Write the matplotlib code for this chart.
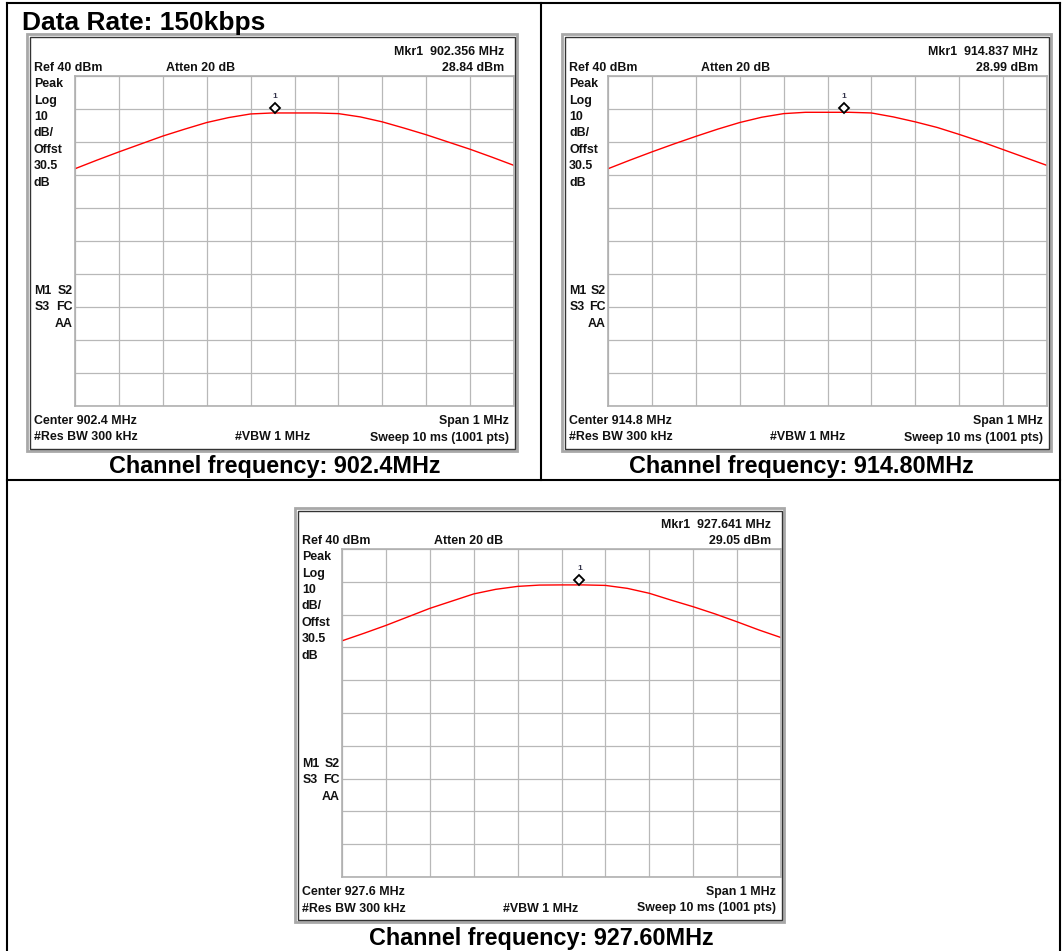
import numpy as np
import matplotlib
matplotlib.use('Agg')
import matplotlib.pyplot as plt
from matplotlib.patches import Rectangle
from matplotlib import transforms

plt.rcParams['font.family'] = ['Liberation Sans', 'DejaVu Sans']

W, H = 1062, 951

#--- Data (dBm every 0.05 MHz across the 1 MHz span)
offset_mhz = [-0.50, -0.45, -0.40, -0.35, -0.30, -0.25, -0.20, -0.15, -0.10, -0.05, 0.00,
              0.05, 0.10, 0.15, 0.20, 0.25, 0.30, 0.35, 0.40, 0.45, 0.50]
center_mhz = [902.4, 914.8, 927.6]
trace_902 = [11.9, 14.5, 17.0, 19.4, 21.8, 23.9, 25.9, 27.4, 28.5, 28.8, 28.8,
             28.8, 28.6, 27.6, 26.1, 24.2, 22.2, 20.0, 17.8, 15.4, 12.9]
trace_914 = [11.9, 14.5, 17.0, 19.4, 21.7, 23.9, 25.9, 27.5, 28.6, 29.0, 29.0,
             29.0, 28.8, 27.6, 26.1, 24.4, 22.3, 20.1, 17.7, 15.3, 12.9]
trace_927 = [12.0, 14.3, 16.7, 19.3, 21.9, 24.1, 26.3, 27.7, 28.6, 29.0, 29.05,
             29.05, 28.9, 28.0, 26.5, 24.4, 22.4, 20.2, 17.8, 15.3, 13.0]
mkr_freq = [902.356, 914.837, 927.641]
mkr_dbm = [28.84, 28.99, 29.05]
center_labels = ['Center 902.4 MHz', 'Center 914.8 MHz', 'Center 927.6 MHz']
captions = ['Channel frequency: 902.4MHz', 'Channel frequency: 914.80MHz',
            'Channel frequency: 927.60MHz']
side_labels = ['Peak', 'Log', '10', 'dB/', 'Offst', '30.5', 'dB']

fig = plt.figure(figsize=(W / 100, H / 100), dpi=100)
bg = fig.add_axes([0, 0, 1, 1])
bg.set_xlim(0, W)
bg.set_ylim(H, 0)
bg.axis('off')

TXT = dict(fontsize=8.9, fontweight='bold', color='#111111', va='baseline')


def txt(x, y, s, ha='left'):
    bg.text(x, y, s, ha=ha, **TXT)


def draw_panel(frame, grid, i, trace, cap_xy):
    fx0, fy0, fx1, fy1 = frame
    gx0, gy0, gx1, gy1 = grid
    # screenshot window border (bevel)
    bg.add_patch(Rectangle((fx0, fy0), fx1 - fx0, fy1 - fy0, fill=False,
                           ec='#a8a8a8', lw=2.0))
    bg.add_patch(Rectangle((fx0 + 2.5, fy0 + 2.5), fx1 - fx0 - 5, fy1 - fy0 - 5,
                           fill=False, ec='#333333', lw=1.0))
    # graticule
    ax = fig.add_axes([gx0 / W, 1 - gy1 / H, (gx1 - gx0) / W, (gy1 - gy0) / H])
    ax.set_xlim(-0.5, 0.5)
    ax.set_ylim(-60, 40)
    ax.set_xticks(np.linspace(-0.5, 0.5, 11))
    ax.set_yticks(np.arange(-60, 41, 10))
    ax.tick_params(length=0, labelbottom=False, labelleft=False)
    ax.grid(True, color='#b8b8b8', lw=0.9)
    for s in ax.spines.values():
        s.set_color('#b0b0b0')
        s.set_linewidth(1.2)
    ax.plot(offset_mhz, trace, color='#ff0000', lw=1.0, solid_joinstyle='round')
    # marker 1 (diamond sits just above the trace point)
    mx = mkr_freq[i] - center_mhz[i]
    tr = transforms.offset_copy(ax.transData, fig=fig, x=0, y=4.5, units='dots')
    ax.plot([mx], [mkr_dbm[i]], marker='D', ms=5.2, mfc='white', mec='black',
            mew=1.3, transform=tr, clip_on=False)
    ax.annotate('1', (mx, mkr_dbm[i]), xytext=(0, 16), textcoords='offset pixels',
                ha='center', va='center', fontsize=6, fontweight='bold',
                color='#33334a')
    # texts round the graticule
    lx = fx0 + 7
    rx = fx1 - 13
    txt(rx, gy0 - 21, 'Mkr1  %.3f MHz' % mkr_freq[i], ha='right')
    txt(lx, gy0 - 5, 'Ref 40 dBm')
    txt(fx0 + 139, gy0 - 5, 'Atten 20 dB')
    txt(rx, gy0 - 5, '%.2f dBm' % mkr_dbm[i], ha='right')
    for k, s in enumerate(side_labels):
        txt(lx, gy0 + 11.2 + 16.4 * k, s)
    txt(lx, gy0 + 217.8, 'M1')
    txt(gx0 - 2.5, gy0 + 217.8, 'S2', ha='right')
    txt(lx + 1, gy0 + 234.2, 'S3')
    txt(gx0 - 2.5, gy0 + 234.2, 'FC', ha='right')
    txt(gx0 - 2.5, gy0 + 250.6, 'AA', ha='right')
    txt(lx, gy1 + 18, center_labels[i])
    txt(fx1 - 8, gy1 + 18, 'Span 1 MHz', ha='right')
    txt(lx, gy1 + 34.5, '#Res BW 300 kHz')
    txt(fx0 + 208, gy1 + 34.5, '#VBW 1 MHz')
    txt(fx1 - 8, gy1 + 34.5, 'Sweep 10 ms (1001 pts)', ha='right')
    bg.text(cap_xy[0], cap_xy[1], captions[i], ha='center', va='baseline',
            fontsize=16.8, fontweight='bold', color='black')


draw_panel((27, 34, 517, 451), (75, 76, 514, 406), 0, trace_902, (275, 473.5))
draw_panel((562, 34, 1051, 451), (608, 76, 1047, 406), 1, trace_914, (801, 473.5))
draw_panel((295, 508, 784, 922), (342, 549, 781, 877), 2, trace_927, (541, 945.5))

bg.text(22, 30, 'Data Rate: 150kbps', ha='left', va='baseline', fontsize=19,
        fontweight='bold', color='black')

#--- Table borders
lk = dict(color='black', lw=1.5, solid_capstyle='projecting')
bg.plot([7, 1060], [3, 3], **lk)
bg.plot([7, 7], [3, H], **lk)
bg.plot([1060, 1060], [3, H], **lk)
bg.plot([541, 541], [3, 480], **lk)
bg.plot([7, 1060], [480, 480], **lk)

fig.savefig('out.png', dpi=100)
